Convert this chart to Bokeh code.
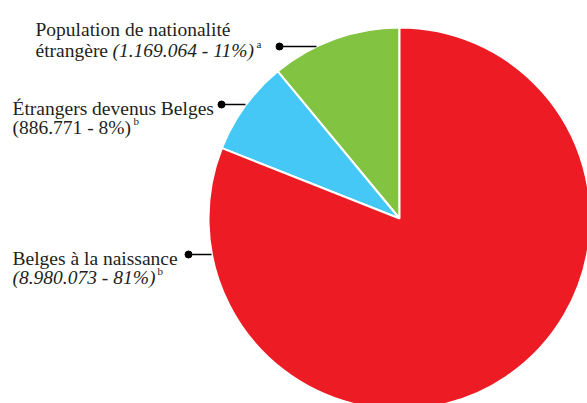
import math
from bokeh.plotting import figure
from bokeh.models import ColumnDataSource, Range1d
from bokeh.core.properties import value
from bokeh.embed import file_html
from bokeh.resources import INLINE

# ---- data ----
categories = ["Population de nationalité étrangère", "Étrangers devenus Belges", "Belges à la naissance"]
counts = ["1.169.064", "886.771", "8.980.073"]
percents = [11, 8, 81]
notes = ["a", "b", "b"]
colors = ["#82C341", "#45C8F5", "#ED1C24"]

W, H = 587, 403
p = figure(width=W, height=H, output_backend="svg", toolbar_location=None,
           x_range=Range1d(0, W), y_range=Range1d(0, H), min_border=0)
p.axis.visible = False
p.grid.visible = False
p.outline_line_color = None
p.background_fill_color = "white"
p.border_fill_color = "white"

def X(px):
    return px

def Y(py):
    return H - py

# pie wedges, counterclockwise from top
total = float(sum(percents))
starts, ends = [], []
a = math.pi / 2
for v in percents:
    starts.append(a)
    a += v / total * 2 * math.pi
    ends.append(a)
src = ColumnDataSource(dict(start=starts, end=ends, color=colors))
cx, cy, R = X(399), Y(218), 191
p.wedge(x=cx, y=cy, radius=R, start_angle="start", end_angle="end",
        direction="anticlock", fill_color="color", line_color="white",
        line_width=2, source=src)

FONT = value("Liberation Serif")
FS = "19.5px"
SUP = "11px"

def txt(x, y, s, style="normal", size=FS):
    p.text(x=[X(x)], y=[Y(y)], text=[s], text_font=FONT, text_font_size=size,
           text_font_style=style, text_color="#231F20",
           text_align="left", text_baseline="alphabetic")

# label 1 (green)
txt(35, 29, "Population de nationalité")
txt(35, 50, "étrangère")
txt(112, 50, f"({counts[0]} - {percents[0]}%)", "italic")
txt(256, 43, notes[0], size=SUP)
# label 2 (blue)
txt(12, 108, "Étrangers devenus Belges")
txt(12, 127, f"({counts[1]} - {percents[1]}%)")
txt(133, 120, notes[1], size=SUP)
# label 3 (red)
txt(12, 258, "Belges à la naissance")
txt(12, 277, f"({counts[2]} - {percents[2]}%)", "italic")
txt(157, 270, notes[2], size=SUP)

# leader lines with dots
leaders = [((279, 46), (316, 46)), ((221, 104), (245, 104)), ((188, 254), (211, 254))]
for (x0, y0), (x1, y1) in leaders:
    p.line([X(x0), X(x1)], [Y(y0), Y(y1)], line_color="black", line_width=1.5)
    p.scatter([X(x0)], [Y(y0)], size=7, fill_color="black", line_color="black")

open("out.html", "w").write(file_html(p, INLINE))
